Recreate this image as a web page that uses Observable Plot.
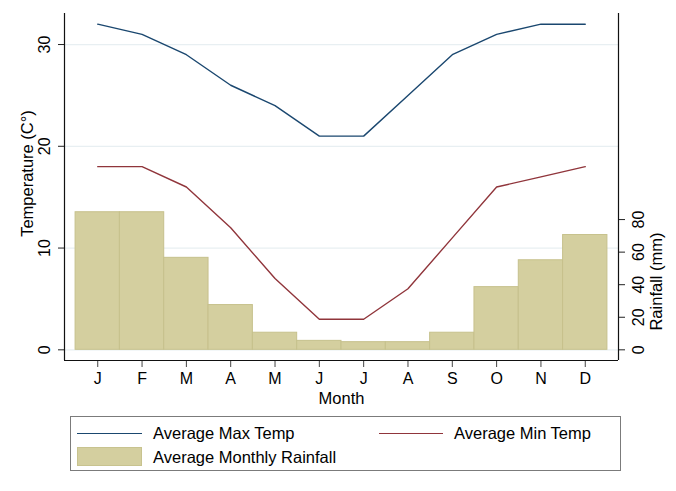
<!DOCTYPE html>
<html>
<head>
<meta charset="utf-8">
<script src="https://cdn.jsdelivr.net/npm/d3@7"></script>
<script src="https://cdn.jsdelivr.net/npm/@observablehq/plot@0.6"></script>
<style>
  html, body { margin: 0; padding: 0; background: #fff; }
  body { position: relative; width: 676px; height: 491px; overflow: hidden; font-family: "Liberation Sans", Arial, Helvetica, sans-serif; }
  #chart svg { display: block; }
  #legend { position: absolute; left: 70px; top: 416px; width: 551px; height: 55px; border: 1.5px solid #7b7b7b; box-sizing: border-box; background: #fff; }
  .lg-line { position: absolute; height: 0; border-top: 1.4px solid; }
  .lg-rect { position: absolute; background: #d4cf9f; border: 1px solid #c8c38f; box-sizing: border-box; }
  .lg-text { position: absolute; font-size: 16.5px; color: #000; line-height: 18px; white-space: nowrap; }
</style>
</head>
<body>
<div id="chart"></div>
<div id="legend">
  <div class="lg-line" style="left:6px; top:16px; width:65px; border-color:#1a476f"></div>
  <div class="lg-text" style="left:82px; top:7px">Average Max Temp</div>
  <div class="lg-line" style="left:308px; top:16px; width:64px; border-color:#90353b"></div>
  <div class="lg-text" style="left:383px; top:7px">Average Min Temp</div>
  <div class="lg-rect" style="left:6px; top:30px; width:65px; height:19px"></div>
  <div class="lg-text" style="left:82px; top:31px">Average Monthly Rainfall</div>
</div>
<script>
// ---- data ----
const months = ["J","F","M","A","M","J","J","A","S","O","N","D"];
const maxTemp = [32, 31, 29, 26, 24, 21, 21, 25, 29, 31, 32, 32];
const minTemp = [18, 18, 16, 12, 7, 3, 3, 6, 11, 16, 17, 18];
const rainfall = [84.5, 84.5, 56.5, 27.5, 10.5, 5.5, 4.7, 4.7, 10.5, 38.5, 55, 70.5];
const tempTicks = [0, 10, 20, 30];
const rainTicks = [0, 20, 40, 60, 80];

// rainfall (mm) expressed on the temperature axis (1 mm = 0.16 °C)
const k = 0.16;
const xDomain = [0.25, 12.75];
const yDomain = [-1.05, 33.05];

const rows = months.map((m, i) => ({
  idx: i + 1, month: m, max: maxTemp[i], min: minTemp[i], rain: rainfall[i]
}));

const chart = Plot.plot({
  width: 676,
  height: 410,
  marginLeft: 64,
  marginRight: 58,
  marginTop: 13,
  marginBottom: 50,
  x: {domain: xDomain},
  y: {domain: yDomain},
  style: {fontFamily: '"Liberation Sans", Arial, Helvetica, sans-serif', fontSize: "16px", color: "#000", background: "#fff"},
  marks: [
    Plot.gridY(tempTicks, {stroke: "#e8eff2", strokeOpacity: 1, strokeWidth: 1.2}),
    Plot.rectY(rows, {
      x1: d => d.idx - 0.5, x2: d => d.idx + 0.5,
      y1: 0, y2: d => d.rain * k,
      fill: "#d4cf9f", stroke: "#c6c18c", strokeWidth: 1
    }),
    Plot.line(rows, {x: "idx", y: "max", stroke: "#1a476f", strokeWidth: 1.4}),
    Plot.line(rows, {x: "idx", y: "min", stroke: "#90353b", strokeWidth: 1.4}),
    Plot.axisY(tempTicks, {anchor: "left", tickSize: 6, tickPadding: 9, tickRotate: -90, label: null, stroke: "#222"}),
    Plot.axisY(rainTicks.map(v => v * k), {anchor: "right", tickSize: 6, tickPadding: 19, tickRotate: -90, label: null, stroke: "#222",
      tickFormat: v => String(Math.round(v / k))}),
    Plot.axisX(d3.range(1, 13), {anchor: "bottom", tickSize: 7, tickPadding: 5, label: null, stroke: "#444",
      tickFormat: v => months[v - 1]}),
    Plot.ruleX(xDomain, {stroke: "#111", strokeWidth: 1.2}),
    Plot.ruleY([yDomain[0]], {stroke: "#111", strokeWidth: 1.2}),
    Plot.text(["Month"], {frameAnchor: "bottom", dy: 38, lineAnchor: "middle", textAnchor: "middle", fontSize: 16.5, fill: "#000"}),
    Plot.text(["Temperature (C°)"], {frameAnchor: "left", dx: -37, dy: -13.5, rotate: -90, lineAnchor: "middle", textAnchor: "middle", fontSize: 16.5, fill: "#000"}),
    Plot.text(["Rainfall (mm)"], {frameAnchor: "right", dx: 38.5, dy: 94.5, rotate: -90, lineAnchor: "middle", textAnchor: "middle", fontSize: 16.5, fill: "#000"})
  ]
});
document.getElementById("chart").appendChild(chart);
</script>
</body>
</html>
